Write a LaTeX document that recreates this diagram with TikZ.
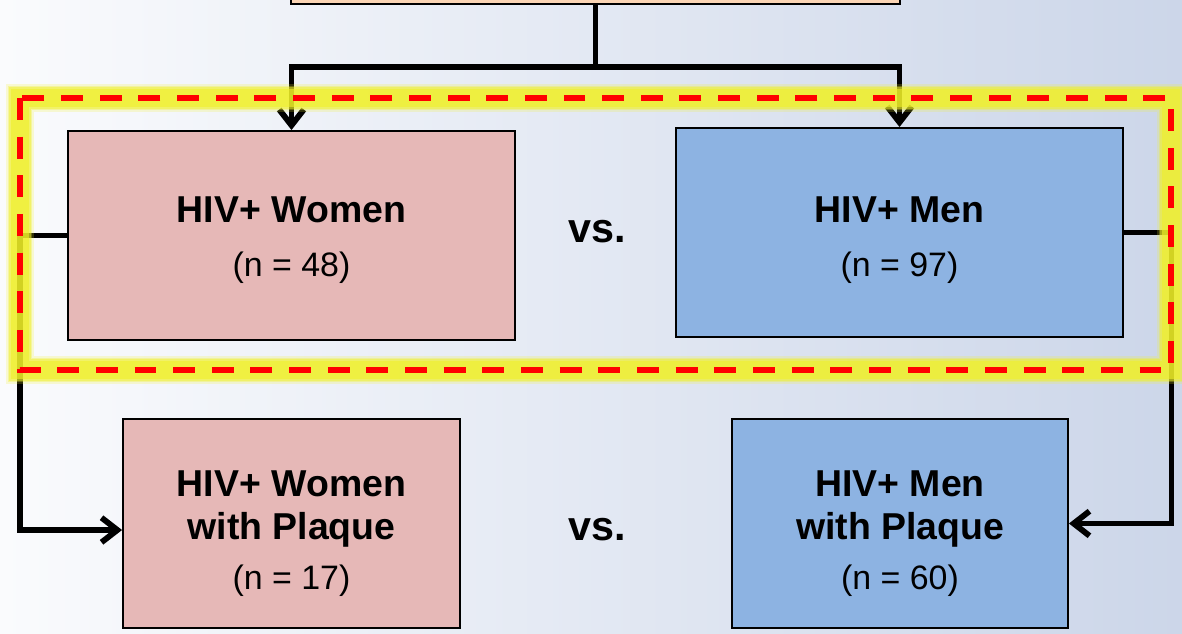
\documentclass[tikz,border=0pt]{standalone}
\usepackage{fontspec}
\setmainfont{Liberation Sans}
\usetikzlibrary{arrows.meta,calc}

\definecolor{bgleft}{RGB}{250,251,253}
\definecolor{bgright}{RGB}{204,214,233}
\definecolor{peach}{RGB}{251,213,181}
\definecolor{womenpink}{RGB}{230,184,183}
\definecolor{menblue}{RGB}{141,179,226}
\definecolor{glowyellow}{RGB}{240,240,40}

% bold group title, with a strut that sets the first line lower
\newcommand{\grptitle}[1]{{\bfseries\fontsize{21.3}{24.5}\selectfont #1}}
\newcommand{\topstrut}[1]{\rule{0pt}{#1}}

\tikzset{
	grp/.style={draw=black, line width=1.1pt, align=center, inner sep=0pt,
		minimum height=4.18cm, font=\fontsize{19.3}{30.7}\selectfont},
	plaque/.style={grp, font=\fontsize{19.3}{28.4}\selectfont},
	vslabel/.style={font=\bfseries\fontsize{23.5}{28}\selectfont},
	link/.style={line width=3.3pt, -{Straight Barb[length=9pt,width=14pt]}},
	glowline/.style={glowyellow, line width=#1},
}

\begin{document}
\begin{tikzpicture}[x=0.02cm,y=-0.02cm]
	\useasboundingbox (0,0) rectangle (1182,634);
	\clip (0,0) rectangle (1182,634);
	\shade[left color=bgleft, right color=bgright] (0,0) rectangle (1182,634);
	
	% boxes
	\node[draw=black, line width=1.1pt, fill=peach, minimum width=12.18cm, minimum height=0.9cm]
		(top) at (595.5,-18.5) {};
	\node[grp, fill=womenpink, minimum width=8.94cm] (women) at (291.5,235.5)
		{\topstrut{20pt}\grptitle{HIV+ Women}\\(n = 48)};
	\node[grp, fill=menblue, minimum width=8.94cm] (men) at (899.5,232.5)
		{\topstrut{23.5pt}\grptitle{HIV+ Men}\\(n = 97)};
	\node[plaque, fill=womenpink, minimum width=6.74cm] (wplaque) at (291.5,523.5)
		{\topstrut{26pt}\grptitle{HIV+ Women}\\[-3.9pt]\grptitle{with Plaque}\\(n = 17)};
	\node[plaque, fill=menblue, minimum width=6.72cm] (mplaque) at (900,523.5)
		{\topstrut{26pt}\grptitle{HIV+ Men}\\[-3.9pt]\grptitle{with Plaque}\\(n = 60)};
	
	\node[vslabel] (vstop) at (597,232) {vs.};
	\node[vslabel] (vsbot) at (597,530) {vs.};
	
	% connectors
	\coordinate (split) at (595.5,67);
	\coordinate (lft) at (20,0);
	\coordinate (rgt) at (1171.5,0);
	\draw[line width=3.3pt] (top.south) -- (split);
	\draw[link] (split) -| (women.north);
	\draw[link] (split) -| (men.north);
	\draw[link] (women.west) -- (women.west -| lft) |- ($(wplaque.west)+(0,6.5)$);
	\draw[link] (men.east) -- (men.east -| rgt) |- (mplaque.east);
	
	% highlighted pair
	\foreach \w/\o in {16pt/0.2, 14pt/0.3, 12pt/0.45, 10pt/0.6}
		\draw[glowline=\w, opacity=\o] (20,98) rectangle (1171,370);
	\draw[red, line width=3.3pt, dash pattern=on 12.5pt off 9.5pt] (20,98) rectangle (1171,370);
\end{tikzpicture}
\end{document}
